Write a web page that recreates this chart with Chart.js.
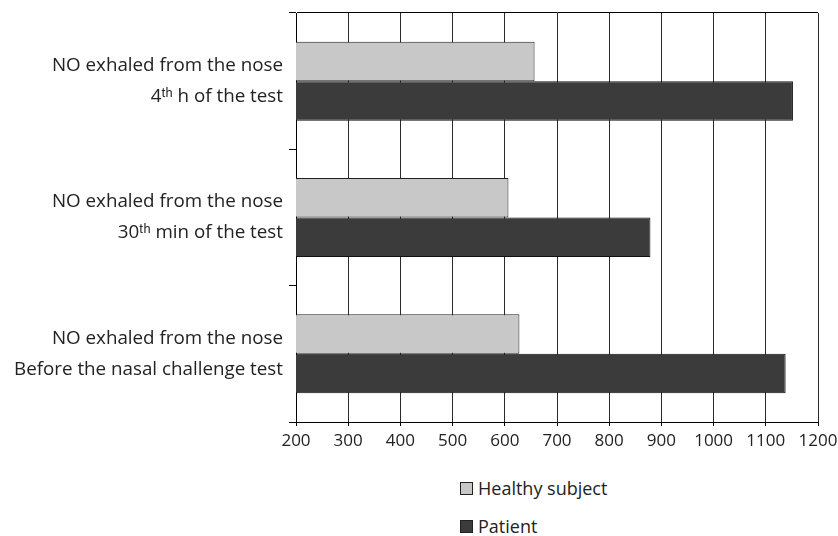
<!DOCTYPE html>
<html>
<head>
<meta charset="utf-8">
<script src="https://cdn.jsdelivr.net/npm/chart.js@4/dist/chart.umd.min.js"></script>
<style>
    body { margin: 0; background: #fff; font-family: "Open Sans", sans-serif; }
    #wrap { position: relative; width: 838px; height: 536px; }
    #chart-box { position: absolute; left: 0; top: 0; width: 838px; height: 460px; }
    #legend { position: absolute; left: 460px; top: 476px; }
    .legend-item { display: flex; align-items: center; height: 24px; margin-bottom: 14px; font-size: 18px; color: #222; }
    .legend-box { width: 11px; height: 11px; border: 1px solid #222; margin-right: 5px; }
</style>
</head>
<body>
<div id="wrap">
    <div id="chart-box"><canvas id="chart"></canvas></div>
    <div id="legend"></div>
</div>
<script>
const categories = [
    ['NO exhaled from the nose', '4ᵗʰ h of the test'],
    ['NO exhaled from the nose', '30ᵗʰ min of the test'],
    ['NO exhaled from the nose', 'Before the nasal challenge test']
];
const healthyValues = [657, 607, 628];
const patientValues = [1152, 879, 1138];
const seriesNames = ['Healthy subject', 'Patient'];
const xTicks = { min: 200, max: 1200, step: 100 };

document.addEventListener('DOMContentLoaded', () => {
    const ctx = document.getElementById('chart').getContext('2d');

    const chart = new Chart(ctx, {
        type: 'bar',
        data: {
            labels: categories,
            datasets: [
                {
                    label: seriesNames[0],
                    data: healthyValues,
                    backgroundColor: '#c8c8c8',
                    borderColor: '#222',
                    borderWidth: 1
                },
                {
                    label: seriesNames[1],
                    data: patientValues,
                    backgroundColor: '#3b3b3b',
                    borderColor: '#111',
                    borderWidth: 1
                }
            ]
        },
        options: {
            indexAxis: 'y',
            responsive: true,
            maintainAspectRatio: false,
            animation: false,
            layout: { padding: { top: 13, right: 20, left: 0, bottom: 0 } },
            datasets: {
                bar: { categoryPercentage: 0.58, barPercentage: 1.0 }
            },
            scales: {
                x: {
                    min: xTicks.min,
                    max: xTicks.max,
                    ticks: {
                        stepSize: xTicks.step,
                        color: '#222',
                        padding: 5,
                        font: { family: '"Open Sans", sans-serif', size: 17 },
                        callback: (v) => String(v)
                    },
                    grid: { color: '#2a2a2a', tickColor: '#000', tickLength: 4 },
                    border: { color: '#000' },
                    afterFit: (scale) => {
                        scale.height = 38;
                        scale.paddingLeft = 0;
                        scale.paddingRight = 0;
                    }
                },
                y: {
                    ticks: {
                        color: '#222',
                        padding: 6,
                        font: { family: '"Open Sans", sans-serif', size: 18.8, lineHeight: 1.65 }
                    },
                    grid: {
                        offset: true,
                        tickLength: 7,
                        tickColor: '#000',
                        // only the top boundary runs across the plot
                        color: (c) => c.index === 0 ? '#000' : 'rgba(0,0,0,0)'
                    },
                    border: { color: '#000' },
                    afterFit: (scale) => {
                        scale.width = 296;
                        scale.paddingTop = 0;
                        scale.paddingBottom = 0;
                    }
                }
            },
            plugins: {
                legend: { display: false },
                tooltip: { enabled: false }
            }
        }
    });

    // Legend stacked vertically under the axis
    const legend = document.getElementById('legend');
    chart.data.datasets.forEach(ds => {
        const item = document.createElement('div');
        item.className = 'legend-item';
        item.innerHTML = `<span class="legend-box" style="background:${ds.backgroundColor}"></span><span>${ds.label}</span>`;
        legend.appendChild(item);
    });
});
</script>
</body>
</html>
